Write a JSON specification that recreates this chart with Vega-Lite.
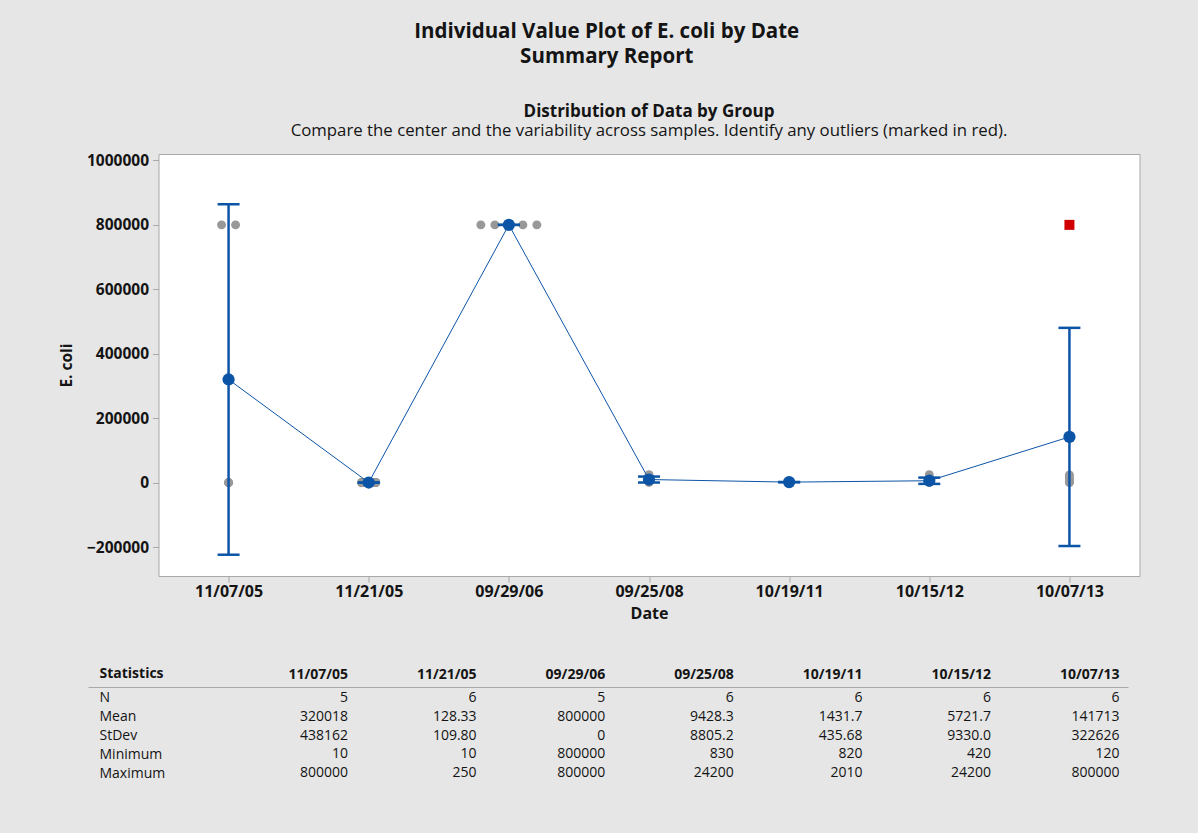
{
  "$schema": "https://vega.github.io/schema/vega-lite/v6.json",
  "autosize": {"type": "none"},
  "padding": {"left": 158.5, "top": 154, "right": 1039.5, "bottom": 679},
  "background": "#e6e6e6",
  "config": {"font": "Open Sans", "view": {"stroke": null}},
  "title": {
    "text": ["Individual Value Plot of E. coli by Date", "Summary Report"],
    "anchor": "middle",
    "fontSize": 20.5,
    "fontWeight": "bold",
    "color": "#141414",
    "lineHeight": 25,
    "offset": 35,
    "dx": -22
  },
  "spacing": 44,
  "resolve": {"scale": {"x": "independent", "y": "independent"}, "axis": {"x": "independent", "y": "independent"}},
  "datasets": {
    "obs": [
      {"date": "11/07/05", "ecoli": 800000, "slot": -0.5, "outlier": false},
      {"date": "11/07/05", "ecoli": 800000, "slot": 0.5, "outlier": false},
      {"date": "11/07/05", "ecoli": 10, "slot": 0, "outlier": false},
      {"date": "11/07/05", "ecoli": 30, "slot": 0, "outlier": false},
      {"date": "11/07/05", "ecoli": 50, "slot": 0, "outlier": false},
      {"date": "11/21/05", "ecoli": 10, "slot": -0.5, "outlier": false},
      {"date": "11/21/05", "ecoli": 40, "slot": 0.5, "outlier": false},
      {"date": "11/21/05", "ecoli": 100, "slot": -0.5, "outlier": false},
      {"date": "11/21/05", "ecoli": 150, "slot": 0.5, "outlier": false},
      {"date": "11/21/05", "ecoli": 220, "slot": -0.5, "outlier": false},
      {"date": "11/21/05", "ecoli": 250, "slot": 0.5, "outlier": false},
      {"date": "09/29/06", "ecoli": 800000, "slot": -2, "outlier": false},
      {"date": "09/29/06", "ecoli": 800000, "slot": -1, "outlier": false},
      {"date": "09/29/06", "ecoli": 800000, "slot": 0, "outlier": false},
      {"date": "09/29/06", "ecoli": 800000, "slot": 1, "outlier": false},
      {"date": "09/29/06", "ecoli": 800000, "slot": 2, "outlier": false},
      {"date": "09/25/08", "ecoli": 830, "slot": 0, "outlier": false},
      {"date": "09/25/08", "ecoli": 1500, "slot": 0, "outlier": false},
      {"date": "09/25/08", "ecoli": 5000, "slot": 0, "outlier": false},
      {"date": "09/25/08", "ecoli": 10840, "slot": 0, "outlier": false},
      {"date": "09/25/08", "ecoli": 14200, "slot": 0, "outlier": false},
      {"date": "09/25/08", "ecoli": 24200, "slot": 0, "outlier": false},
      {"date": "10/19/11", "ecoli": 820, "slot": 0, "outlier": false},
      {"date": "10/19/11", "ecoli": 1100, "slot": 0, "outlier": false},
      {"date": "10/19/11", "ecoli": 1300, "slot": 0, "outlier": false},
      {"date": "10/19/11", "ecoli": 1560, "slot": 0, "outlier": false},
      {"date": "10/19/11", "ecoli": 1800, "slot": 0, "outlier": false},
      {"date": "10/19/11", "ecoli": 2010, "slot": 0, "outlier": false},
      {"date": "10/15/12", "ecoli": 420, "slot": 0, "outlier": false},
      {"date": "10/15/12", "ecoli": 1200, "slot": 0, "outlier": false},
      {"date": "10/15/12", "ecoli": 2010, "slot": 0, "outlier": false},
      {"date": "10/15/12", "ecoli": 2500, "slot": 0, "outlier": false},
      {"date": "10/15/12", "ecoli": 4000, "slot": 0, "outlier": false},
      {"date": "10/15/12", "ecoli": 24200, "slot": 0, "outlier": false},
      {"date": "10/07/13", "ecoli": 120, "slot": 0, "outlier": false},
      {"date": "10/07/13", "ecoli": 2400, "slot": 0, "outlier": false},
      {"date": "10/07/13", "ecoli": 8758, "slot": 0, "outlier": false},
      {"date": "10/07/13", "ecoli": 15000, "slot": 0, "outlier": false},
      {"date": "10/07/13", "ecoli": 24000, "slot": 0, "outlier": false},
      {"date": "10/07/13", "ecoli": 800000, "slot": 0, "outlier": true}
    ],
    "summary": [
      {"date": "11/07/05", "mean": 320018, "lo": -223948, "hi": 863984},
      {"date": "11/21/05", "mean": 128.33, "lo": 13.1, "hi": 243.6},
      {"date": "09/29/06", "mean": 800000, "lo": 800000, "hi": 800000},
      {"date": "09/25/08", "mean": 9428.3, "lo": 187, "hi": 18670},
      {"date": "10/19/11", "mean": 1431.7, "lo": 974.5, "hi": 1888.9},
      {"date": "10/15/12", "mean": 5721.7, "lo": -4070, "hi": 15513},
      {"date": "10/07/13", "mean": 141713, "lo": -196915, "hi": 480341}
    ],
    "table": [
      {"stat": "N", "date": "11/07/05", "value": "5"},
      {"stat": "N", "date": "11/21/05", "value": "6"},
      {"stat": "N", "date": "09/29/06", "value": "5"},
      {"stat": "N", "date": "09/25/08", "value": "6"},
      {"stat": "N", "date": "10/19/11", "value": "6"},
      {"stat": "N", "date": "10/15/12", "value": "6"},
      {"stat": "N", "date": "10/07/13", "value": "6"},
      {"stat": "Mean", "date": "11/07/05", "value": "320018"},
      {"stat": "Mean", "date": "11/21/05", "value": "128.33"},
      {"stat": "Mean", "date": "09/29/06", "value": "800000"},
      {"stat": "Mean", "date": "09/25/08", "value": "9428.3"},
      {"stat": "Mean", "date": "10/19/11", "value": "1431.7"},
      {"stat": "Mean", "date": "10/15/12", "value": "5721.7"},
      {"stat": "Mean", "date": "10/07/13", "value": "141713"},
      {"stat": "StDev", "date": "11/07/05", "value": "438162"},
      {"stat": "StDev", "date": "11/21/05", "value": "109.80"},
      {"stat": "StDev", "date": "09/29/06", "value": "0"},
      {"stat": "StDev", "date": "09/25/08", "value": "8805.2"},
      {"stat": "StDev", "date": "10/19/11", "value": "435.68"},
      {"stat": "StDev", "date": "10/15/12", "value": "9330.0"},
      {"stat": "StDev", "date": "10/07/13", "value": "322626"},
      {"stat": "Minimum", "date": "11/07/05", "value": "10"},
      {"stat": "Minimum", "date": "11/21/05", "value": "10"},
      {"stat": "Minimum", "date": "09/29/06", "value": "800000"},
      {"stat": "Minimum", "date": "09/25/08", "value": "830"},
      {"stat": "Minimum", "date": "10/19/11", "value": "820"},
      {"stat": "Minimum", "date": "10/15/12", "value": "420"},
      {"stat": "Minimum", "date": "10/07/13", "value": "120"},
      {"stat": "Maximum", "date": "11/07/05", "value": "800000"},
      {"stat": "Maximum", "date": "11/21/05", "value": "250"},
      {"stat": "Maximum", "date": "09/29/06", "value": "800000"},
      {"stat": "Maximum", "date": "09/25/08", "value": "24200"},
      {"stat": "Maximum", "date": "10/19/11", "value": "2010"},
      {"stat": "Maximum", "date": "10/15/12", "value": "24200"},
      {"stat": "Maximum", "date": "10/07/13", "value": "800000"}
    ]
  },
  "vconcat": [
    {
      "width": 981,
      "height": 422,
      "view": {"fill": "white", "stroke": "#a8a8a8", "strokeWidth": 1},
      "title": {
        "text": "Distribution of Data by Group",
        "subtitle": "Compare the center and the variability across samples. Identify any outliers (marked in red).",
        "anchor": "middle",
        "frame": "group",
        "fontSize": 17,
        "fontWeight": "bold",
        "color": "#141414",
        "subtitleFontSize": 16.8,
        "subtitleColor": "#141414",
        "subtitlePadding": 2,
        "offset": 13
      },
      "layer": [
        {
          "data": {"name": "obs"},
          "transform": [{"filter": "!datum.outlier"}],
          "mark": {"type": "circle", "size": 80, "color": "#989898", "opacity": 1},
          "encoding": {
            "x": {
              "field": "date", "type": "ordinal",
              "sort": ["11/07/05", "11/21/05", "09/29/06", "09/25/08", "10/19/11", "10/15/12", "10/07/13"],
              "scale": {"type": "point", "padding": 0.5},
              "axis": {"title": "Date", "labelAngle": 0, "labelFontWeight": "bold", "labelFontSize": 16, "labelColor": "#141414", "tickColor": "#a8a8a8", "tickSize": 6, "domain": false, "labelPadding": 1, "titleFontSize": 16, "titleFontWeight": "bold", "titleColor": "#141414", "titlePadding": 6}
            },
            "y": {
              "field": "ecoli", "type": "quantitative", "title": "E. coli",
              "scale": {"domain": [-290000, 1020000], "nice": false, "zero": false},
              "axis": {"values": [-200000, 0, 200000, 400000, 600000, 800000, 1000000], "format": "d", "grid": false, "domain": false, "tickColor": "#a8a8a8", "tickSize": 6, "labelPadding": 4, "labelFontWeight": "bold", "labelFontSize": 15.5, "labelColor": "#141414", "titleFontSize": 15.5, "titleFontWeight": "bold", "titleColor": "#141414", "titlePadding": 12}
            },
            "xOffset": {"field": "slot", "type": "quantitative", "scale": {"domain": [-2, 2], "range": [-28, 28]}}
          }
        },
        {
          "data": {"name": "obs"},
          "transform": [{"filter": "datum.outlier"}],
          "mark": {"type": "square", "size": 100, "color": "#d10000", "opacity": 1},
          "encoding": {
            "x": {"field": "date", "type": "ordinal", "sort": ["11/07/05", "11/21/05", "09/29/06", "09/25/08", "10/19/11", "10/15/12", "10/07/13"]},
            "y": {"field": "ecoli", "type": "quantitative", "title": "E. coli"}
          }
        },
        {
          "data": {"name": "summary"},
          "mark": {"type": "rule", "color": "#0c55a6", "strokeWidth": 2.5},
          "encoding": {
            "x": {"field": "date", "type": "ordinal", "sort": ["11/07/05", "11/21/05", "09/29/06", "09/25/08", "10/19/11", "10/15/12", "10/07/13"]},
            "y": {"field": "lo", "type": "quantitative", "title": "E. coli"},
            "y2": {"field": "hi"}
          }
        },
        {
          "data": {"name": "summary"},
          "mark": {"type": "tick", "color": "#0c55a6", "size": 22, "thickness": 2.5, "opacity": 1},
          "encoding": {
            "x": {"field": "date", "type": "ordinal", "sort": ["11/07/05", "11/21/05", "09/29/06", "09/25/08", "10/19/11", "10/15/12", "10/07/13"]},
            "y": {"field": "lo", "type": "quantitative", "title": "E. coli"}
          }
        },
        {
          "data": {"name": "summary"},
          "mark": {"type": "tick", "color": "#0c55a6", "size": 22, "thickness": 2.5, "opacity": 1},
          "encoding": {
            "x": {"field": "date", "type": "ordinal", "sort": ["11/07/05", "11/21/05", "09/29/06", "09/25/08", "10/19/11", "10/15/12", "10/07/13"]},
            "y": {"field": "hi", "type": "quantitative", "title": "E. coli"}
          }
        },
        {
          "data": {"name": "summary"},
          "mark": {"type": "line", "color": "#0c55a6", "strokeWidth": 1},
          "encoding": {
            "x": {"field": "date", "type": "ordinal", "sort": ["11/07/05", "11/21/05", "09/29/06", "09/25/08", "10/19/11", "10/15/12", "10/07/13"]},
            "y": {"field": "mean", "type": "quantitative", "title": "E. coli"}
          }
        },
        {
          "data": {"name": "summary"},
          "mark": {"type": "circle", "color": "#0c55a6", "size": 150, "opacity": 1},
          "encoding": {
            "x": {"field": "date", "type": "ordinal", "sort": ["11/07/05", "11/21/05", "09/29/06", "09/25/08", "10/19/11", "10/15/12", "10/07/13"]},
            "y": {"field": "mean", "type": "quantitative", "title": "E. coli"}
          }
        }
      ]
    },
    {
      "width": 969.5,
      "height": 97,
      "data": {"name": "table"},
      "mark": {"type": "text", "align": "right", "baseline": "middle", "fontSize": 14, "color": "#141414"},
      "encoding": {
        "x": {
          "field": "date", "type": "nominal", "bandPosition": 1,
          "sort": ["11/07/05", "11/21/05", "09/29/06", "09/25/08", "10/19/11", "10/15/12", "10/07/13"],
          "scale": {"type": "band", "range": [-70.5, 969.5], "paddingInner": 0, "paddingOuter": 0.5435, "align": 0.94},
          "axis": {"orient": "top", "title": null, "labelAngle": 0, "labelAlign": "right", "labelOffset": 64.3, "ticks": false, "tickSize": 0, "labelPadding": 6, "labelFontSize": 14, "labelFontWeight": "bold", "labelColor": "#141414", "domainColor": "#a8a8a8", "domainWidth": 1}
        },
        "y": {
          "field": "stat", "type": "nominal",
          "sort": ["N", "Mean", "StDev", "Minimum", "Maximum"],
          "scale": {"type": "point", "padding": 0.585},
          "axis": {"title": "Statistics", "titleAngle": 0, "titleAlign": "left", "titleBaseline": "middle", "titleX": -59.5, "titleY": -14, "titleFontSize": 14, "titleFontWeight": "bold", "titleColor": "#141414", "labelAlign": "left", "labelPadding": 59.5, "ticks": false, "tickSize": 0, "domain": false, "labelFontSize": 14, "labelColor": "#141414"}
        },
        "text": {"field": "value"}
      }
    }
  ]
}
